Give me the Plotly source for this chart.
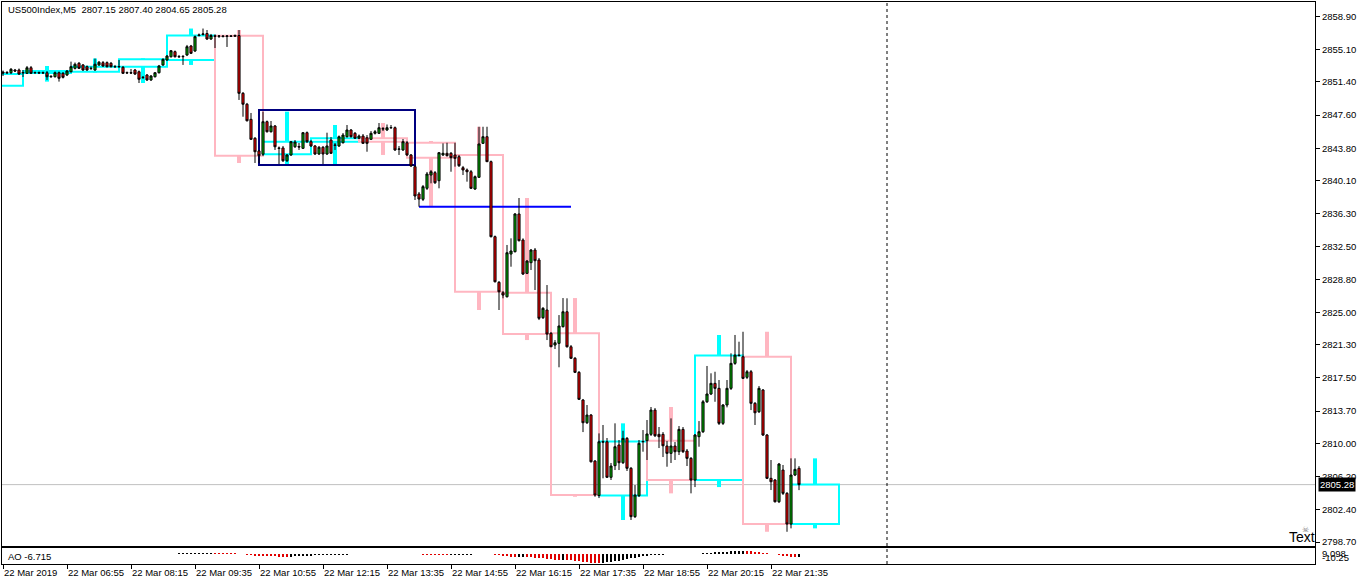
import plotly.graph_objects as go

# ---------------- data (M5 bars, US500Index, 22 Mar 2019, first bar 05:35) ----------------
open_ = [
    2852.54, 2852.43, 2852.46, 2852.77, 2852.77, 2852.43, 2852.39, 2853.03, 2852.46, 2852.48,
    2852.43, 2852.46, 2852.00, 2852.00, 2852.46, 2852.39, 2852.20, 2852.57, 2852.96, 2853.54,
    2853.35, 2853.15, 2852.94, 2852.77, 2853.35, 2853.61, 2853.61, 2853.54, 2853.17, 2853.15,
    2853.08, 2852.43, 2852.46, 2852.77, 2852.57, 2851.91, 2852.20, 2851.63, 2852.00, 2852.46,
    2853.35, 2853.92, 2854.29, 2854.87, 2854.32, 2854.29, 2854.49, 2855.52, 2854.95, 2856.72,
    2856.84, 2856.95, 2856.32, 2856.69, 2856.63, 2856.67, 2856.61, 2856.67, 2856.63, 2856.72,
    2850.10, 2848.85, 2847.12, 2844.95, 2843.50, 2843.12, 2846.85, 2845.70, 2846.36, 2843.84,
    2843.84, 2842.38, 2843.04, 2843.98, 2844.01, 2843.80, 2845.59, 2844.56, 2844.07, 2843.15,
    2843.92, 2843.15, 2844.75, 2844.18, 2844.07, 2844.44, 2845.13, 2845.90, 2845.52, 2844.95,
    2845.21, 2845.01, 2844.83, 2845.52, 2845.52, 2846.01, 2845.90, 2846.16, 2846.16, 2843.69,
    2843.61, 2844.44, 2843.04, 2841.70, 2838.57, 2837.96, 2839.22, 2840.74, 2841.01, 2840.09,
    2843.04, 2843.23, 2843.23, 2843.04, 2842.84, 2841.58, 2841.32, 2841.12, 2839.14, 2840.48,
    2844.37, 2845.13, 2842.27, 2833.68, 2828.45, 2827.26, 2826.80, 2831.69, 2831.96, 2836.28,
    2833.30, 2829.48, 2830.70, 2832.15, 2831.01, 2824.40, 2825.28, 2822.61, 2821.27, 2821.46,
    2823.37, 2825.08, 2821.07, 2819.75, 2818.14, 2814.97, 2812.37, 2813.25, 2807.98, 2804.03,
    2810.19, 2810.19, 2806.12, 2807.45, 2809.82, 2807.79, 2810.58, 2807.15, 2801.61, 2804.01,
    2810.19, 2810.31, 2811.04, 2813.82, 2811.04, 2811.04, 2809.70, 2808.86, 2809.70, 2809.05,
    2811.61, 2809.13, 2808.29, 2805.81, 2810.77, 2811.34, 2814.77, 2815.66, 2816.88, 2816.31,
    2812.30, 2814.40, 2816.31, 2819.17, 2820.12, 2819.93, 2817.57, 2818.21, 2814.59, 2813.63,
    2816.12, 2810.96, 2806.00, 2805.81, 2803.32, 2806.95, 2804.28, 2800.77, 2806.38, 2807.15,
]
high = [
    2852.71, 2852.66, 2853.00, 2852.89, 2852.94, 2852.77, 2853.23, 2853.23, 2852.60, 2852.60,
    2852.60, 2852.66, 2852.14, 2852.60, 2852.60, 2852.54, 2852.77, 2853.73, 2853.63, 2853.69,
    2853.46, 2853.29, 2853.17, 2854.09, 2853.80, 2853.80, 2853.75, 2853.69, 2853.35, 2853.92,
    2853.23, 2852.60, 2852.89, 2852.89, 2852.71, 2852.08, 2852.31, 2852.20, 2852.54, 2853.35,
    2854.11, 2854.49, 2855.06, 2855.00, 2854.49, 2854.49, 2855.64, 2855.64, 2856.72, 2856.95,
    2857.52, 2857.35, 2856.90, 2856.84, 2856.78, 2856.78, 2856.78, 2856.78, 2856.84, 2857.35,
    2850.25, 2849.00, 2847.85, 2845.09, 2843.61, 2848.00, 2846.98, 2846.93, 2846.47, 2844.01,
    2844.07, 2843.15, 2844.64, 2844.75, 2844.41, 2845.67, 2845.73, 2844.75, 2844.18, 2844.07,
    2844.07, 2845.59, 2845.09, 2844.41, 2845.27, 2845.55, 2846.47, 2846.01, 2845.67, 2845.38,
    2845.44, 2845.32, 2845.78, 2845.90, 2846.70, 2846.24, 2846.53, 2846.47, 2846.30, 2844.07,
    2844.87, 2844.64, 2843.15, 2841.89, 2838.80, 2839.60, 2841.09, 2841.32, 2841.20, 2843.38,
    2844.37, 2844.44, 2843.38, 2844.44, 2843.04, 2841.78, 2841.49, 2841.32, 2840.69, 2846.27,
    2846.27, 2846.27, 2842.40, 2833.81, 2828.60, 2827.46, 2832.73, 2833.49, 2836.39, 2838.11,
    2833.49, 2831.01, 2832.27, 2832.38, 2831.24, 2825.62, 2828.14, 2822.76, 2821.84, 2824.70,
    2826.65, 2826.62, 2821.27, 2819.90, 2818.29, 2815.09, 2814.40, 2813.37, 2808.10, 2811.15,
    2812.11, 2810.62, 2807.76, 2812.30, 2810.39, 2811.45, 2810.73, 2807.30, 2805.23, 2810.39,
    2811.53, 2812.68, 2814.17, 2814.05, 2811.88, 2811.30, 2810.27, 2812.87, 2810.16, 2811.99,
    2811.88, 2809.36, 2808.44, 2811.08, 2812.56, 2814.97, 2818.87, 2818.03, 2818.21, 2817.26,
    2814.51, 2817.26, 2820.32, 2822.42, 2821.65, 2822.79, 2818.41, 2818.41, 2814.74, 2816.57,
    2816.23, 2811.08, 2808.10, 2805.92, 2807.76, 2807.53, 2804.43, 2808.29, 2808.29, 2807.40,
]
low = [
    2852.08, 2852.31, 2852.31, 2852.54, 2852.20, 2851.97, 2852.31, 2852.31, 2852.31, 2852.31,
    2852.31, 2851.63, 2851.86, 2851.91, 2851.44, 2851.80, 2852.08, 2852.48, 2852.83, 2852.89,
    2852.66, 2852.66, 2852.77, 2852.66, 2853.23, 2853.12, 2853.06, 2853.06, 2853.00, 2853.00,
    2852.31, 2852.31, 2852.31, 2852.20, 2851.28, 2851.74, 2851.51, 2851.51, 2851.91, 2852.37,
    2853.23, 2853.80, 2854.20, 2854.20, 2854.15, 2853.35, 2854.37, 2854.60, 2854.83, 2856.61,
    2856.72, 2856.21, 2856.21, 2855.29, 2856.44, 2856.49, 2855.41, 2856.55, 2856.55, 2849.34,
    2847.42, 2846.87, 2844.75, 2842.12, 2842.12, 2842.92, 2845.61, 2845.61, 2843.61, 2842.00,
    2842.23, 2842.23, 2842.92, 2843.84, 2843.61, 2843.72, 2844.41, 2843.95, 2843.04, 2843.04,
    2842.00, 2843.04, 2843.15, 2843.61, 2843.95, 2844.35, 2845.04, 2845.04, 2844.87, 2844.87,
    2844.30, 2843.41, 2844.75, 2845.38, 2845.44, 2845.78, 2845.78, 2846.01, 2843.50, 2843.04,
    2843.50, 2842.92, 2841.66, 2837.88, 2837.11, 2837.76, 2839.03, 2839.79, 2839.71, 2839.22,
    2842.92, 2842.86, 2841.12, 2841.70, 2841.66, 2840.74, 2839.98, 2839.14, 2839.03, 2840.40,
    2844.30, 2842.23, 2833.59, 2828.43, 2825.28, 2826.62, 2826.71, 2830.24, 2831.87, 2833.13,
    2829.29, 2829.40, 2829.86, 2827.57, 2824.13, 2824.25, 2821.84, 2821.04, 2820.81, 2818.72,
    2823.28, 2820.98, 2819.67, 2818.06, 2814.97, 2811.30, 2812.22, 2807.81, 2803.89, 2803.74,
    2806.00, 2806.04, 2805.81, 2806.95, 2806.95, 2807.64, 2806.84, 2801.23, 2801.46, 2803.86,
    2809.05, 2808.10, 2810.85, 2810.73, 2809.47, 2808.44, 2807.33, 2807.76, 2808.10, 2808.67,
    2808.90, 2807.41, 2804.28, 2805.00, 2809.62, 2811.19, 2814.63, 2815.54, 2814.77, 2812.11,
    2812.11, 2814.13, 2816.12, 2819.00, 2819.95, 2817.37, 2817.37, 2813.82, 2812.11, 2813.48,
    2810.85, 2805.92, 2804.66, 2803.23, 2803.17, 2804.09, 2799.88, 2800.27, 2806.26, 2804.65,
]
close = [
    2852.43, 2852.48, 2852.85, 2852.66, 2852.31, 2852.48, 2853.03, 2852.39, 2852.48, 2852.43,
    2852.46, 2852.00, 2852.05, 2852.46, 2851.82, 2851.93, 2852.66, 2853.15, 2853.43, 2852.96,
    2852.77, 2852.77, 2852.96, 2853.43, 2853.66, 2853.23, 2853.15, 2853.15, 2853.15, 2853.17,
    2852.39, 2852.46, 2852.43, 2852.31, 2851.71, 2851.93, 2851.63, 2852.08, 2852.46, 2853.23,
    2853.99, 2854.37, 2854.98, 2854.29, 2854.29, 2854.32, 2855.44, 2854.68, 2856.59, 2856.78,
    2856.90, 2856.32, 2856.72, 2856.63, 2856.67, 2856.61, 2856.67, 2856.63, 2856.72, 2850.10,
    2848.85, 2846.96, 2844.83, 2843.41, 2842.96, 2846.85, 2845.70, 2846.36, 2843.98, 2843.80,
    2842.38, 2843.04, 2844.56, 2844.52, 2843.95, 2845.59, 2844.56, 2844.07, 2843.15, 2843.92,
    2843.15, 2844.07, 2843.23, 2844.15, 2845.13, 2845.32, 2845.90, 2845.13, 2844.95, 2845.21,
    2844.37, 2844.37, 2845.52, 2845.70, 2846.16, 2846.05, 2846.16, 2846.18, 2843.61, 2843.72,
    2844.56, 2843.04, 2841.78, 2838.34, 2837.99, 2839.41, 2840.86, 2841.12, 2839.86, 2843.30,
    2843.23, 2842.96, 2842.73, 2842.65, 2841.81, 2841.32, 2841.12, 2839.22, 2840.55, 2844.30,
    2845.13, 2842.27, 2833.68, 2828.52, 2827.37, 2826.99, 2831.84, 2832.04, 2836.28, 2833.22,
    2829.40, 2830.89, 2832.15, 2830.93, 2824.33, 2825.47, 2822.53, 2821.07, 2821.53, 2823.45,
    2825.08, 2821.07, 2819.75, 2818.14, 2815.05, 2812.37, 2813.25, 2807.90, 2804.09, 2810.19,
    2810.16, 2806.12, 2807.41, 2809.62, 2807.79, 2810.58, 2807.15, 2801.61, 2804.09, 2810.01,
    2810.22, 2811.08, 2813.82, 2810.88, 2810.77, 2809.73, 2808.86, 2809.70, 2809.05, 2811.61,
    2809.05, 2808.29, 2805.81, 2810.96, 2811.34, 2814.77, 2815.66, 2816.88, 2816.31, 2812.30,
    2814.40, 2816.31, 2819.17, 2820.12, 2820.07, 2817.45, 2818.21, 2814.59, 2813.51, 2816.31,
    2810.96, 2806.00, 2805.61, 2803.32, 2807.64, 2804.28, 2800.77, 2806.38, 2807.03, 2805.28,
]
# Awesome Oscillator values per bar (None = not drawn)
ao = [None] * 44 + [
    0.5, 0.6, 0.7, 0.8, 0.9, 1.0, 1.1, 1.2, 1.3,
    1.2, 1.1, 1.0, 0.9, 0.8, 0.6,
    0.2, -0.4, -0.9, -1.4, -1.8, -2.1, -2.3, -2.5, -2.6, -2.7, -2.8, -2.9, -3.0,
    -2.8, -2.6, -2.4, -2.2, -2.0, -1.8, -1.6, -1.4, -1.3, -1.2, -1.1, -1.0, -0.9, -0.8, -0.7, -0.6, -0.5,
    0.1, 0.15, 0.2, 0.25, 0.3, 0.3, 0.25, 0.2, 0.15, 0.1, 0.05, 0.0, -0.05, -0.1,
    -0.5, -0.6, -0.7, -0.8, -0.9, -1.0, -1.1, -1.2, -1.3,
    -1.2, -1.1, -1.0, -0.9, -0.8, -0.7, -0.6, -0.5,
    -0.1, -0.05, -0.6, -0.9,
    -1.3, -1.9, -2.4, -2.9, -3.2, -3.1, -3.0, -3.2, -3.5, -3.9, -4.4, -4.8, -5.3, -5.7, -6.0, -6.2,
    -6.1, -6.3, -6.7, -7.2, -7.8, -8.4, -8.9, -9.4, -9.9, -10.0,
    -9.6, -9.0, -8.4, -7.7, -7.0, -6.2, -5.4, -4.7, -4.0, -3.3, -2.7, -2.1, -1.6, -1.2, -0.9, -0.7,
    -0.6, -0.5, -0.4, -0.3, -0.4, -0.5, -0.6, -0.3, 0.2, 0.6, 1.0,
    1.4, 1.7, 2.0, 2.3, 2.5, 2.7, 2.9, 3.0, 3.1, 2.9, 2.7, 2.3, 1.8, 1.3, 0.8,
    0.3, -0.4, -1.2, -2.0, -2.7, -3.3, -3.6, -3.4,
]

h1_first_open = 2850.97          # open of the 05:00 hour (its start is before the first bar)
first_full_hour_bar = 5          # bar index of 06:00
bars_per_hour = 12

x_tick_bars = [0, 16, 32, 48, 64, 80, 96, 112, 128, 144, 160, 176, 192]
x_tick_text = ["22 Mar 2019", "22 Mar 06:55", "22 Mar 08:15", "22 Mar 09:35", "22 Mar 10:55",
               "22 Mar 12:15", "22 Mar 13:35", "22 Mar 14:55", "22 Mar 16:15", "22 Mar 17:35",
               "22 Mar 18:55", "22 Mar 20:15", "22 Mar 21:35"]
y_tick_vals = [2858.90, 2855.10, 2851.40, 2847.60, 2843.80, 2840.10, 2836.30, 2832.50, 2828.80,
               2825.00, 2821.30, 2817.50, 2813.70, 2810.00, 2806.20, 2802.40, 2798.70]

range_box_bars = [64, 103]
range_box_prices = [2841.89, 2848.19]
level_line_bars = [104, 142]
level_line_price = 2837.11
day_sep_bar = 221
last_price = 2805.28
title_text = "US500Index,M5\u00a0\u00a02807.15 2807.40 2804.65 2805.28"
ao_label = "AO -6.715"
ao_scale_text = ["9.098", "-10.25"]

# ---------------- figure ----------------
FONT = "Liberation Sans, Arial, sans-serif"
n = len(close)
idx = list(range(n))
CYAN = "#00FFFF"
PINK = "#FFB6C1"

fig = go.Figure()
fig.add_trace(go.Candlestick(
    x=idx, open=open_, high=high, low=low, close=close,
    increasing=dict(line=dict(color="black", width=1), fillcolor="#00b000"),
    decreasing=dict(line=dict(color="black", width=1), fillcolor="#ff0000"),
    whiskerwidth=0, showlegend=False, hoverinfo="skip", xaxis="x", yaxis="y",
))

ao_colors = []
prev = None
for v in ao:
    if v is None:
        ao_colors.append("black")
    else:
        ao_colors.append("black" if (prev is None or v >= prev) else "#e00000")
        prev = v
fig.add_trace(go.Bar(x=idx, y=ao, marker=dict(color=ao_colors, line=dict(width=0)),
                     width=0.3, showlegend=False, hoverinfo="skip", xaxis="x2", yaxis="y2"))

shapes = []
# higher-timeframe (H1) candles built from the M5 bars
groups = [(first_full_hour_bar - bars_per_hour, 0, first_full_hour_bar)]
s = first_full_hour_bar
while s < n:
    groups.append((s, s, min(s + bars_per_hour, n)))
    s += bars_per_hour
for g0, a, b in groups:
    o = h1_first_open if a == 0 else open_[a]
    c = close[b - 1]
    hi = max(high[a:b] + [o])
    lo = min(low[a:b] + [o])
    col = CYAN if c >= o else PINK
    x0, x1 = g0, g0 + bars_per_hour
    xm = (x0 + x1) / 2
    top, bot = max(o, c), min(o, c)
    shapes.append(dict(type="rect", xref="x", yref="y", x0=x0, x1=x1, y0=bot, y1=top,
                       line=dict(color=col, width=2), fillcolor="rgba(0,0,0,0)", layer="below"))
    if hi > top:
        shapes.append(dict(type="line", xref="x", yref="y", x0=xm, x1=xm, y0=top, y1=hi,
                           line=dict(color=col, width=4), layer="below"))
    if lo < bot:
        shapes.append(dict(type="line", xref="x", yref="y", x0=xm, x1=xm, y0=bot, y1=lo,
                           line=dict(color=col, width=4), layer="below"))

shapes.append(dict(type="rect", xref="x", yref="y", x0=range_box_bars[0], x1=range_box_bars[1],
                   y0=range_box_prices[0], y1=range_box_prices[1],
                   line=dict(color="#000080", width=2), fillcolor="rgba(0,0,0,0)", layer="below"))
shapes.append(dict(type="line", xref="x", yref="y", x0=level_line_bars[0], x1=level_line_bars[1],
                   y0=level_line_price, y1=level_line_price,
                   line=dict(color="#0000FF", width=2), layer="below"))
shapes.append(dict(type="line", xref="paper", yref="y", x0=0, x1=1, y0=last_price, y1=last_price,
                   line=dict(color="#C0C0C0", width=1), layer="below"))
shapes.append(dict(type="line", xref="x", yref="paper", x0=day_sep_bar, x1=day_sep_bar, y0=0, y1=1,
                   line=dict(color="black", width=1, dash="3px,3px"), layer="below"))

W, H = 1362, 585
ML, MR, MT, MB = 2, 47, 2, 21
plot_h = H - MT - MB
main_bottom_px, ao_top_px = 546, 548
dom_main = [(H - MB - main_bottom_px) / plot_h, 1]
dom_ao = [0, (H - MB - ao_top_px) / plot_h]

def ypaper(px):
    return (H - MB - px) / plot_h

def xpaper(px):
    return (px - ML) / (W - ML - MR)

annotations = [
    dict(text=title_text, xref="paper", yref="paper", x=xpaper(6), y=ypaper(10),
         xanchor="left", yanchor="middle", showarrow=False, font=dict(family=FONT, size=9.5, color="black")),
    dict(text=ao_label, xref="paper", yref="paper", x=xpaper(6), y=ypaper(556),
         xanchor="left", yanchor="middle", showarrow=False, font=dict(family=FONT, size=9.5, color="black")),
    dict(text=ao_scale_text[0], xref="paper", yref="paper", x=xpaper(1320), y=ypaper(553),
         xanchor="left", yanchor="middle", showarrow=False, font=dict(family=FONT, size=9.5, color="black")),
    dict(text=ao_scale_text[1], xref="paper", yref="paper", x=xpaper(1320), y=ypaper(557),
         xanchor="left", yanchor="middle", showarrow=False, font=dict(family=FONT, size=9.5, color="black")),
    dict(text="{:.2f}".format(last_price), xref="paper", yref="y", x=1, y=last_price, xshift=3,
         xanchor="left", yanchor="middle", showarrow=False, bgcolor="black", borderpad=1,
         font=dict(family=FONT, size=9.5, color="white")),
    dict(text="Text", xref="paper", yref="paper", x=xpaper(1317), y=ypaper(537),
         xanchor="right", yanchor="middle", showarrow=False, font=dict(family=FONT, size=14, color="black")),
    dict(text="\u2620", xref="paper", yref="paper", x=xpaper(1305), y=ypaper(529),
         xanchor="center", yanchor="middle", showarrow=False,
         font=dict(family="DejaVu Sans", size=8, color="#808080")),
]

axis_common = dict(showgrid=False, zeroline=False, showline=True, mirror=True,
                   linecolor="black", linewidth=1, automargin=False)
fig.update_layout(
    width=W, height=H, margin=dict(l=ML, r=MR, t=MT, b=MB, autoexpand=False),
    paper_bgcolor="white", plot_bgcolor="white", showlegend=False,
    font=dict(family=FONT, size=9.5, color="black"),
    boxgap=0.25, bargap=0,
    xaxis=dict(anchor="y", range=[-0.25, 328], showticklabels=False, ticks="",
               rangeslider=dict(visible=False), **axis_common),
    xaxis2=dict(anchor="y2", matches="x", range=[-0.25, 328], tickmode="array",
                tickvals=x_tick_bars, ticktext=x_tick_text, ticks="outside", ticklen=4,
                tickcolor="black", ticklabelposition="outside right", tickangle=0,
                tickfont=dict(family=FONT, size=9.5, color="black"), **axis_common),
    yaxis=dict(domain=dom_main, side="right", range=[2798.25, 2860.56], tickmode="array",
               tickvals=y_tick_vals, ticktext=["{:.2f}".format(v) for v in y_tick_vals],
               ticks="outside", ticklen=4, tickcolor="black",
               tickfont=dict(family=FONT, size=9.5, color="black"), **axis_common),
    yaxis2=dict(domain=dom_ao, side="right", range=[-10.6, 6.2], showticklabels=False,
                ticks="", **axis_common),
    shapes=shapes, annotations=annotations,
)

fig.write_html("out.html", config={"displayModeBar": False, "staticPlot": True},
               post_script="document.body.style.margin='0';document.body.style.padding='0';"
                           "document.body.style.overflow='hidden';")
